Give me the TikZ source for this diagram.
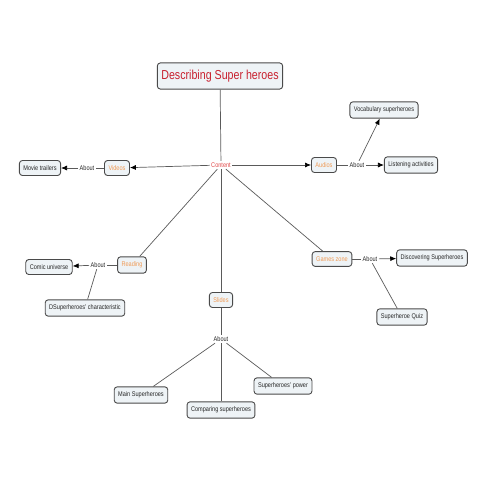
\documentclass[tikz,border=0pt]{standalone}
\usepackage{fontspec}
\setmainfont{Liberation Sans}[FakeStretch=0.82]
\usetikzlibrary{arrows.meta}
\definecolor{boxfill}{HTML}{EEF3F6}
\definecolor{boxdraw}{HTML}{4A4A4A}
\definecolor{titlered}{HTML}{C8202E}
\definecolor{contentred}{HTML}{E04848}
\definecolor{catorange}{HTML}{EE9A55}
\definecolor{linegray}{HTML}{5A5A5A}
\tikzset{
  leaf/.style={draw=boxdraw, line width=0.9pt, fill=boxfill, rounded corners=3pt, font=\fontsize{6.8}{8}\selectfont, inner xsep=4pt, inner ysep=5pt, text=black!85},
  cat/.style={leaf, text=catorange},
  about/.style={font=\fontsize{6.8}{8}\selectfont, inner sep=1.5pt, text=black!85},
  conn/.style={draw=linegray, line width=0.7pt},
  arr/.style={conn, -{Latex[length=6pt,width=5pt,color=black]}},
}
\begin{document}
\begin{tikzpicture}[x=1pt,y=-1pt]
\useasboundingbox (0,0) rectangle (480,480);
\node[draw=boxdraw, line width=0.9pt, fill=boxfill, rounded corners=3pt, text=titlered, font=\fontsize{13}{15}\selectfont, inner xsep=4pt, inner ysep=7pt] (title) at (220,76) {Describing Super heroes};
\node[about, text=contentred] (content) at (221,165) {Content};
\node[cat] (videos) at (117,168) {Videos};
\node[about] (ab1) at (87,168) {About};
\node[leaf] (movie) at (40,168) {Movie trailers};
\node[cat] (audios) at (324,165) {Audios};
\node[about] (ab2) at (357,165) {About};
\node[leaf] (listen) at (411,165) {Listening activities};
\node[leaf] (vocab) at (384,110) {Vocabulary superheroes};
\node[cat] (reading) at (132,265) {Reading};
\node[about] (ab3) at (98,265) {About};
\node[leaf] (comic) at (49,267) {Comic universe};
\node[leaf] (dsup) at (85,308) {DSuperheroes' characteristic};
\node[cat] (games) at (332,259) {Games zone};
\node[about] (ab4) at (370,259) {About};
\node[leaf] (disc) at (432,258) {Discovering Superheroes};
\node[leaf] (quiz) at (402,317) {Superheroe Quiz};
\node[cat] (slides) at (221,300) {Slides};
\node[about] (ab5) at (221,339) {About};
\node[leaf] (mainsup) at (141,395) {Main Superheroes};
\node[leaf] (comp) at (221,410) {Comparing superheroes};
\node[leaf] (power) at (283,386) {Superheroes' power};

\draw[conn] (title) -- (content);
\draw[arr] (content) -- (videos);
\draw[arr] (content) -- (audios);
\draw[conn] (content) -- (reading);
\draw[conn] (content) -- (slides);
\draw[conn] (content) -- (games);
\draw[conn] (videos) -- (ab1);
\draw[arr] (ab1) -- (movie);
\draw[conn] (audios) -- (ab2);
\draw[arr] (ab2) -- (listen);
\draw[arr] (ab2) -- (vocab);
\draw[conn] (reading) -- (ab3);
\draw[arr] (ab3) -- (comic);
\draw[conn] (ab3) -- (dsup);
\draw[conn] (games) -- (ab4);
\draw[arr] (ab4) -- (disc);
\draw[conn] (ab4) -- (quiz);
\draw[conn] (slides) -- (ab5);
\draw[conn] (ab5) -- (mainsup);
\draw[conn] (ab5) -- (comp);
\draw[conn] (ab5) -- (power);
\end{tikzpicture}
\end{document}
